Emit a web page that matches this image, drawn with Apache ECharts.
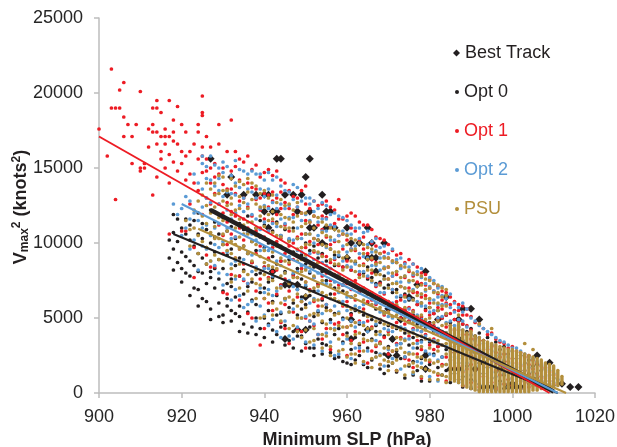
<!DOCTYPE html>
<html>
<head>
    <meta charset="utf-8">
    <script src="https://cdn.jsdelivr.net/npm/echarts@6/dist/echarts.min.js"></script>
    <style>
        html, body { margin: 0; padding: 0; background: #fff; }
    </style>
</head>
<body>
    <div id="main" style="width: 617px;height:447px;"></div>
    <script type="text/javascript">

    // x ticks (hPa) and y ticks (knots^2)
    var xTicks = [900, 920, 940, 960, 980, 1000, 1020];
    var yTicks = [0, 5000, 10000, 15000, 20000, 25000];

    // each row: [minimum SLP, Vmax^2, Vmax^2, ...]
    var bestTrack = [
        [927, 15625], [931, 13225], [932, 14400], [935, 13225], [938, 13225],
        [940, 13225, 12100], [941, 13225, 11025], [942, 12100, 8100], [943, 15625, 12100],
        [944, 15625], [945, 13225, 7225, 3600], [946, 7225], [947, 13225],
        [948, 12100, 7225, 4225], [949, 13225], [950, 14400, 6400, 4225],
        [951, 15625, 12100, 11025], [952, 11025], [954, 13225, 10000], [955, 12100, 11025],
        [956, 12100], [957, 11025], [960, 11025, 9025], [961, 10000, 4900, 3600],
        [963, 10000], [965, 11025, 9025, 4225], [966, 10000, 9025], [967, 9025, 8100],
        [969, 10000], [970, 5625, 2500], [971, 3600], [972, 2500], [973, 4900],
        [975, 6400], [977, 7225], [979, 8100, 2500, 1600], [982, 4900], [984, 6400],
        [985, 1600], [987, 4900, 3600, 1600], [988, 5625], [990, 5625], [991, 1600],
        [992, 4900], [993, 2025, 400], [995, 400], [997, 1600], [999, 400],
        [1000, 625], [1001, 400], [1002, 400], [1005, 900], [1006, 2500],
        [1009, 2025], [1012, 625], [1014, 400], [1016, 400]
    ];

    var opt0 = [
        [917, 10200, 9000], [918, 11900, 10700, 9600, 8200], [919, 11600, 10100, 8700],
        [920, 11000, 9400, 8300, 7400], [921, 11600, 10600, 9100, 8000],
        [922, 11200, 10200, 8800, 7800, 6500], [923, 11500, 9800, 8500, 7000],
        [924, 12000, 10600, 9300, 8100, 6900, 5800], [925, 11300, 10300, 9000, 8000, 6300],
        [926, 10900, 9700, 8600, 7300, 6100], [927, 12200, 10000, 8100, 7700, 5600, 4900],
        [928, 11400, 10400, 9400, 8300, 7000], [929, 10600, 8900, 7600, 6000, 5100],
        [930, 11700, 9900, 8300, 6800, 5200, 4700], [931, 10800, 9200, 7300, 6300, 5800],
        [932, 11100, 9600, 7600, 7100, 5500, 4800], [933, 12000, 10300, 8500, 6400, 5300],
        [934, 11300, 9000, 7800, 5800, 5100, 4100], [935, 10900, 9800, 8200, 6600, 4600],
        [936, 11800, 10700, 9300, 7100, 5400, 4000], [937, 10100, 8700, 7400, 6200, 4400],
        [938, 11000, 9500, 7900, 5900, 5000, 3900], [939, 11500, 10400, 8000, 6700, 4300],
        [940, 11200, 9700, 8400, 7000, 5000, 3700], [941, 10000, 8900, 7400, 5500, 4600],
        [942, 10800, 9100, 7700, 6100, 4200, 3400], [943, 11400, 9900, 8600, 6500, 5200, 3900],
        [944, 10500, 8800, 7200, 5300, 4400], [945, 10900, 9600, 8100, 6300, 4500, 3200],
        [946, 10200, 8900, 7400, 5700, 3500], [947, 11000, 9400, 7900, 6000, 4100, 3000],
        [948, 10300, 8300, 6900, 5200, 3800], [949, 9200, 7600, 6400, 5600, 3800, 2800],
        [950, 10600, 10000, 8600, 7100, 5900, 3300], [951, 9500, 8000, 6500, 4400, 3000],
        [952, 9800, 8400, 6800, 5100, 3000, 2500], [953, 10200, 9000, 7300, 5400, 3600],
        [954, 9300, 8100, 6200, 4700, 3300, 2600], [955, 9900, 8800, 7500, 5700, 3200],
        [956, 9600, 8300, 6600, 4900, 2700], [957, 9200, 8500, 7000, 5300, 3900, 2300],
        [958, 9100, 7800, 6100, 4300, 2400], [959, 8400, 7200, 6800, 5000, 3400, 2100],
        [960, 8900, 7400, 5800, 4000, 2000], [961, 8200, 6400, 5300, 4800, 2900, 1900],
        [962, 8700, 7100, 5500, 3700, 2200], [963, 7900, 6700, 4600, 3200, 2500],
        [964, 8000, 6900, 5200, 3900, 1900], [965, 8400, 7600, 6000, 4200, 3000, 1700],
        [966, 7700, 6500, 4900, 3600, 2200], [967, 7300, 5600, 4500, 4100, 2700],
        [968, 7400, 6300, 4700, 3300, 1600], [969, 7800, 7000, 5400, 3800, 2600, 1300],
        [970, 7200, 6100, 4500, 3100, 1800], [971, 6700, 5100, 3500, 2000],
        [972, 6900, 5800, 4300, 2800, 1400], [973, 6400, 5000, 3300, 2300],
        [974, 6600, 5500, 4000, 2400, 1000], [975, 6200, 4800, 3200, 1800],
        [976, 6300, 5200, 3700, 2100, 1200], [977, 5900, 4600, 3000, 1500],
        [978, 6000, 5000, 3500, 2300, 800], [979, 5600, 4400, 2700, 1700],
        [980, 5700, 4700, 3400, 1900, 800], [981, 5300, 4100, 2600],
        [982, 5500, 4300, 3100, 1700], [983, 5000, 3800, 2400, 1200],
        [984, 5200, 4000, 2900, 1500], [985, 4700, 3600, 2200, 700],
        [986, 4900, 3700, 2700, 1300], [987, 4400, 3300, 2000, 900],
        [988, 4600, 3500, 2500, 1100, 400], [989, 4100, 3000, 1800],
        [990, 4300, 3200, 2300, 900, 300], [991, 3800, 2700, 1500],
        [992, 4000, 2900, 2000, 600, 200], [993, 3500, 2400, 1300],
        [994, 3700, 2600, 1700, 500, 200], [995, 3200, 2200, 1000],
        [996, 3400, 2300, 1400, 400, 200], [997, 2900, 1900, 800],
        [998, 3100, 2100, 1200, 300], [999, 2600, 1600, 600],
        [1000, 2800, 1800, 1000, 300], [1001, 2300, 1400, 500],
        [1002, 2500, 1500, 800, 300], [1003, 2000, 1100], [1004, 2200, 1300, 600],
        [1005, 1800, 900], [1006, 1900, 1000, 500], [1007, 1500, 700],
        [1008, 1600, 800], [1009, 1200, 600], [1010, 1000, 500]
    ];

    var opt1 = [
        [900, 17600], [902, 15800], [903, 21600, 19000], [904, 19000, 12900],
        [905, 20200, 19000], [906, 20700, 18400, 17100], [907, 17900], [908, 17100, 15300],
        [909, 17900], [910, 20100, 15000, 14800], [911, 15300, 15000], [912, 17600, 16400],
        [913, 19000, 17900, 17400, 13200], [914, 19500, 19000, 17400, 16600, 14400],
        [915, 18700, 17100, 16100, 15600], [916, 17600, 17100, 16600, 15000],
        [917, 19500, 17100, 15900, 14000, 10600], [918, 18200, 17400, 16800, 15400],
        [919, 19100, 16600, 14800], [920, 17900, 16100, 15300, 10800],
        [921, 17400, 15800, 14200, 10800], [922, 16100, 14600, 12600],
        [923, 16600, 14000, 9700, 7700], [924, 17900, 17400, 15600, 13500],
        [925, 19800, 18700, 18500, 16400, 15800, 14700, 11900],
        [926, 17100, 15600, 14800, 13000, 9200], [927, 16400, 15000, 14000, 12600, 8400],
        [928, 15300, 14400, 13300, 8400], [929, 17900, 16600, 14600, 12600, 11200],
        [930, 15000, 13900, 12000, 10500, 9300, 6700], [931, 16100, 13600, 12700, 11400, 9900, 6600],
        [932, 18200, 14800, 13600, 12100, 10600, 7900], [933, 16100, 15100, 13300, 11800, 10400, 9000],
        [934, 15600, 14200, 12800, 11000, 9600, 7800, 6200], [935, 15400, 13000, 11600, 10200, 8600, 7500],
        [936, 15800, 14000, 12400, 11000, 9400, 7300, 5300], [937, 14900, 13700, 11800, 8700, 5000],
        [938, 15200, 13600, 12900, 10800, 9300, 6800], [939, 14400, 13000, 12200, 11000, 9800, 7600, 3200],
        [940, 14700, 13300, 11600, 10400, 8400, 6300, 4300], [941, 14900, 13200, 12400, 10800, 9000, 7700, 6000],
        [942, 14500, 13400, 12800, 11400, 9700, 8100, 5500], [943, 14800, 13000, 11900, 10100, 8200, 6600],
        [944, 14200, 13400, 12300, 10300, 8800, 7200, 4700], [945, 14000, 12700, 11200, 9300, 7600, 5900, 4300],
        [946, 13500, 12300, 10800, 9800, 8600, 6800, 3300], [947, 13100, 11900, 10000, 8900, 7800, 5400],
        [948, 13000, 12400, 10400, 9100, 7700, 6400, 4200], [949, 13500, 12000, 10600, 9700, 8300, 6100, 4100],
        [950, 13800, 12600, 11500, 9700, 7400, 5000, 3000], [951, 12300, 11400, 10100, 8700, 6900, 4800],
        [952, 12800, 11800, 10300, 9400, 7700, 6100, 4500], [953, 12500, 11200, 9900, 8700, 7200, 5800, 3900],
        [954, 12600, 11800, 10900, 9200, 7800, 6300, 3600], [955, 12800, 11700, 10400, 9100, 8000, 5900, 4300],
        [956, 12400, 11100, 9900, 8700, 7500, 5500, 2900], [957, 12200, 11300, 10100, 8900, 7900, 6600, 4600],
        [958, 12900, 11600, 10500, 8500, 7200, 4700], [959, 11600, 10600, 9600, 8400, 7200, 5800, 3900],
        [960, 11800, 10200, 8800, 7300, 6100, 4400, 2500], [961, 12000, 11000, 9600, 8200, 6900, 5200, 3500],
        [962, 11800, 10800, 9500, 7500, 6200, 4100], [963, 11400, 10200, 9000, 7900, 6800, 4800, 2800],
        [964, 11200, 10400, 9600, 8600, 7000, 5600, 3400], [965, 11200, 9300, 7700, 6100, 4800, 2000],
        [966, 10900, 10000, 8900, 8000, 6200, 4400, 2800], [967, 10400, 9800, 8700, 7100, 5900, 3100],
        [968, 10300, 9300, 7300, 6200, 4900, 3400, 1900], [969, 10200, 9400, 8300, 6600, 5200, 3700],
        [970, 9900, 9000, 8400, 7600, 5400, 4100, 2600], [971, 9500, 8800, 7800, 6900, 5700, 4400, 2800],
        [972, 9200, 8700, 7900, 6100, 4700, 3300, 1500], [973, 9300, 8400, 7100, 6200, 5000, 3700],
        [974, 8700, 7700, 6500, 5600, 4600, 2300], [975, 8900, 8100, 7000, 5700, 4800, 3800, 2200],
        [976, 8600, 7800, 6700, 5500, 4300, 1700], [977, 8400, 7400, 6700, 5900, 4800, 3500, 2600],
        [978, 8000, 7300, 6400, 5100, 4100, 2900, 1000], [979, 7900, 7200, 6500, 5500, 4600, 3900],
        [980, 7600, 7000, 6000, 5200, 4600, 3200, 2100], [981, 7300, 6800, 5300, 4500, 3600, 2900],
        [982, 7100, 6600, 5700, 4900, 4000, 3100, 1200], [983, 6800, 6200, 5600, 5000, 4100, 3200, 1900],
        [984, 6700, 6000, 5200, 4400, 3700, 2400, 800], [985, 6400, 5900, 5300, 4500, 3700, 3000, 2200],
        [986, 6100, 5500, 4900, 4200, 3500, 2700, 1700], [987, 5900, 5500, 4800, 4200, 3500, 2700, 1800],
        [988, 5800, 5200, 4600, 3900, 3300, 1400, 500], [989, 5600, 5200, 4500, 3900, 3000, 2500, 1600],
        [990, 5100, 4200, 3600, 3000, 2500, 1900, 700], [991, 4700, 3600, 2200],
        [992, 4600, 3200, 1600, 400], [993, 4300, 3500, 2600, 1100],
        [994, 3900, 2900, 1800], [995, 4000, 3100, 2300, 700],
        [996, 3600, 2700, 1500, 300], [997, 3400, 2400, 1200],
        [998, 3300, 2600, 1900, 600], [999, 3000, 2100, 900],
        [1000, 3100, 2300, 1600, 500], [1001, 2800, 2000, 1300],
        [1002, 2700, 1800, 1000, 300], [1003, 2400, 1500, 700],
        [1004, 2500, 1900, 1200, 400], [1005, 2200, 1600, 900],
        [1006, 2000, 1300, 600], [1007, 1800, 1100, 500], [1008, 1700, 1000, 400],
        [1009, 1400, 800], [1010, 1200, 600]
    ];

    var opt2 = [
        [918, 12600], [919, 11900], [920, 12300, 10500], [921, 13100, 11000],
        [922, 12800, 11600, 9600], [923, 14600, 12000, 10200], [924, 14000, 11500, 8200],
        [925, 15800, 15300, 13600, 12400, 11000, 9800], [926, 15100, 14300, 13000, 11200, 9600],
        [927, 15800, 14200, 12700, 10500, 8800], [928, 15200, 13800, 12100, 11000, 9900, 8500],
        [929, 15000, 14300, 13500, 12600, 11300, 9700, 8000], [930, 15400, 14700, 13100, 11800, 10100, 7200],
        [931, 15100, 13400, 12200, 11000, 9400, 7900], [932, 14500, 13300, 11600, 10300, 8600, 6200],
        [933, 15500, 14000, 13200, 12000, 10400, 8800, 7600, 6900], [934, 14900, 13700, 12500, 11200, 9700, 6500],
        [935, 14800, 13000, 12100, 11100, 8900, 7600, 5700], [936, 14600, 13600, 12600, 10700, 9400, 7300, 5900],
        [937, 14800, 13400, 11900, 10600, 9200, 8100, 6100], [938, 14600, 13000, 11600, 10200, 8400, 4800],
        [939, 14600, 13600, 12300, 10900, 9500, 7000, 5800], [940, 14200, 13100, 12500, 11400, 9600, 8300, 6700, 5200],
        [941, 14700, 13600, 12300, 10800, 9500, 8300, 6900, 4500], [942, 14200, 12700, 11300, 9900, 7800, 6500, 4900],
        [943, 14400, 13200, 12300, 11100, 9900, 8800, 6800, 4100], [944, 13800, 12600, 11600, 10500, 8500, 7100, 5400, 3700],
        [945, 13500, 12300, 11300, 9600, 8000, 6200, 4800], [946, 13400, 12500, 11700, 10300, 9100, 7500, 5400, 3800],
        [947, 13900, 12900, 11700, 10200, 8000, 7100, 5600, 3600], [948, 13700, 12400, 11000, 9500, 8100, 6900, 4400],
        [949, 12800, 11500, 10300, 9400, 8500, 6200, 5000, 3700], [950, 13000, 11900, 10600, 9000, 8300, 7200, 5100, 3400],
        [951, 13000, 12600, 11500, 10600, 9300, 8100, 6000, 4800], [952, 12800, 12100, 10000, 8900, 7700, 6300, 4600, 3200],
        [953, 12300, 11400, 10500, 9300, 8000, 6800, 5500, 3900], [954, 12700, 11600, 10800, 8700, 7300, 5300, 2800],
        [955, 12500, 11600, 10800, 9700, 8500, 7300, 5900, 4000], [956, 11900, 11200, 10200, 8300, 7200, 6300, 4700, 3400],
        [957, 12000, 11100, 10200, 9000, 7400, 5800, 4300, 2500], [958, 11800, 10500, 9200, 7900, 6700, 5400, 2600],
        [959, 11700, 10800, 9800, 8800, 7200, 6100, 4900, 3300], [960, 11500, 10600, 9400, 8500, 7400, 6400, 5500, 3600],
        [961, 11200, 10600, 9600, 8400, 7400, 6400, 4800, 2300], [962, 11000, 9800, 8600, 7100, 5800, 4400, 3000],
        [963, 11000, 10300, 9300, 8100, 6900, 5700, 4700, 3000], [964, 10700, 9100, 8100, 6900, 5900, 4700, 2000],
        [965, 10800, 9900, 9000, 7800, 6600, 5100, 4100, 2800], [966, 10100, 9400, 8500, 7400, 6300, 3500],
        [967, 10300, 9500, 8500, 7200, 6000, 4600, 3500, 2400], [968, 9700, 9000, 8200, 6700, 5400, 3900, 2600],
        [969, 9800, 9100, 8400, 7600, 6700, 5300, 4300, 1800], [970, 9300, 8000, 7000, 6000, 5100, 4200, 2900],
        [971, 9600, 8700, 7800, 6900, 6000, 5000, 4100, 2300], [972, 8900, 8100, 7400, 6400, 5600, 4400, 3200],
        [973, 9000, 8300, 7400, 6500, 5400, 4400, 3300, 1600], [974, 8600, 7800, 7000, 6100, 5200, 4300, 3600, 2400],
        [975, 8400, 7400, 6300, 5600, 4700, 3600, 2700], [976, 8600, 7900, 6900, 6200, 5400, 4200, 3000, 1300],
        [977, 8100, 7100, 6100, 5200, 4200, 3300, 2100], [978, 8300, 7700, 6600, 5800, 4900, 4100, 3400, 2000],
        [979, 7300, 6800, 5800, 4800, 3800, 2800], [980, 7700, 7100, 6200, 5400, 4500, 3500, 2600, 1100],
        [981, 7500, 6800, 6200, 5500, 4400, 3500, 2500], [982, 7000, 6400, 5900, 5000, 4300, 3300, 2200, 800],
        [983, 7100, 6500, 5900, 5100, 4100, 3200, 2400], [984, 6300, 5900, 5300, 4700, 4000, 3100, 1900],
        [985, 6600, 5700, 4800, 4200, 3700, 2800, 1000], [986, 6000, 5400, 4500, 3800, 3100, 2400],
        [987, 5700, 4900, 4200, 3600, 3000, 2300, 700], [988, 6000, 5400, 4800, 4200, 3500, 2900, 1500],
        [989, 5600, 4400, 3300, 2000], [990, 5000, 3900, 2700, 1200, 400],
        [991, 4800, 3500, 2400, 800], [992, 4500, 3700, 2800, 1800],
        [993, 4300, 3300, 2100, 500], [994, 4100, 3000, 1700],
        [995, 3900, 2800, 1400, 300], [996, 3700, 2500, 1100],
        [997, 3500, 2600, 1900, 600], [998, 3400, 2200, 1300],
        [999, 3200, 2400, 1600, 400], [1000, 3000, 2000, 900],
        [1001, 3000, 1700, 600], [1002, 2800, 1900, 1100, 300],
        [1003, 2600, 1500, 800], [1004, 2400, 1700, 1000], [1005, 2300, 1400, 500],
        [1006, 2100, 1200, 700], [1007, 1900, 900], [1008, 1800, 1100, 600],
        [1009, 1500, 800], [1010, 1300, 700], [1011, 900]
    ];

    var psu = [
        [921, 11500], [922, 10900, 9800], [923, 12200, 11000], [924, 12800, 10500, 9300],
        [925, 13200, 11800, 10100], [926, 14000, 12500, 11300, 9700, 8600],
        [927, 13600, 12000, 10700, 8800], [928, 14000, 13200, 12400, 11100, 10300, 9200],
        [929, 14500, 13300, 11700, 10300, 8900], [930, 14400, 13500, 12800, 11500, 10600, 9900, 8800],
        [931, 13500, 12500, 11600, 10800, 9500], [932, 14300, 13000, 12600, 11900, 10100, 9300, 8300, 7400],
        [933, 13800, 12200, 11000, 9900, 9000, 7800], [934, 14100, 13100, 12300, 11600, 10400, 9600, 8600, 7000],
        [935, 13900, 12700, 11200, 10600, 9800, 8100], [936, 14300, 13400, 12300, 11400, 10600, 9300, 7900, 6800],
        [937, 14000, 12900, 11400, 10100, 8800, 7600], [938, 13800, 12600, 11000, 10500, 9900, 8200, 7300, 6300],
        [939, 13300, 12400, 11800, 10500, 9100, 7200, 5000], [940, 13500, 12400, 11100, 10300, 9500, 8700, 7900, 6300, 5100],
        [941, 13000, 11900, 11500, 10200, 8500, 7600, 6600], [942, 13200, 12100, 11600, 10700, 9400, 8400, 7500, 6000, 5200],
        [943, 12700, 11300, 10500, 9800, 8300, 7000, 5600], [944, 12900, 11900, 11100, 10400, 9800, 9000, 7800, 7000, 6000, 4800],
        [945, 12500, 11700, 11000, 9600, 8800, 8000, 6300], [946, 12600, 11600, 11000, 10100, 9400, 8700, 7300, 6400, 5400, 4300],
        [947, 12200, 11400, 10800, 9300, 7700, 6200, 4500], [948, 12700, 11800, 10300, 9600, 8800, 7700, 6600, 5800, 5000, 4100],
        [949, 12000, 11100, 9700, 8900, 8100, 6100, 5000, 3700], [950, 12000, 11300, 10600, 9900, 9200, 8200, 7400, 6500, 5700, 4200],
        [951, 11400, 10600, 9900, 8400, 6800, 5200, 3400], [952, 11800, 11000, 10300, 9500, 8600, 7800, 7000, 6200, 5300, 4300, 3500],
        [953, 11700, 10200, 9400, 8700, 7100, 6200, 5200], [954, 11400, 10700, 9900, 9100, 8300, 7500, 6700, 5800, 4800, 3900, 3000],
        [955, 11200, 10500, 9800, 8200, 6500, 5500, 4600, 3800], [956, 11000, 10400, 9600, 8900, 8000, 7200, 6300, 5500, 4300, 3100, 2500],
        [957, 10900, 9400, 8600, 7900, 6300, 5200, 4200], [958, 10800, 10100, 9400, 8600, 7800, 7000, 6100, 5300, 4500, 3600, 2800],
        [959, 10600, 9000, 8200, 7600, 5900, 4400, 2900], [960, 10500, 9900, 9100, 8400, 7500, 6700, 5800, 5000, 4400, 3800, 2400],
        [961, 10300, 9500, 8800, 7300, 5600, 4500, 3300, 2600], [962, 10200, 9600, 8800, 8100, 7300, 6500, 5600, 4700, 3900, 2600, 2000],
        [963, 10000, 8500, 7700, 6900, 5400, 4000, 3300], [964, 9900, 9300, 8500, 7800, 7000, 6200, 5400, 4500, 3600, 2800, 2100],
        [965, 9700, 8900, 8200, 6600, 5100, 4300, 3500], [966, 9600, 9000, 8200, 7500, 6700, 5900, 5100, 4300, 3500, 2300, 1700],
        [967, 9400, 8600, 7900, 6300, 4800, 3900, 3200, 2400], [968, 9300, 8700, 7900, 7200, 6400, 5700, 4900, 4100, 3300, 2500, 1900],
        [969, 9000, 8300, 7600, 6000, 5300, 4600, 3000, 2200], [970, 9000, 8400, 7600, 7000, 6100, 5400, 4600, 3900, 3000, 2100, 1500],
        [971, 8800, 8000, 7300, 5800, 5100, 4400, 2800, 2000], [972, 8700, 8100, 7300, 6700, 5900, 5200, 4400, 3700, 2900, 2200, 1500],
        [973, 8500, 7700, 7100, 5500, 4200, 3600, 3000], [974, 8400, 7800, 7000, 6400, 5700, 5000, 4200, 3500, 2700, 1800, 1200],
        [975, 8200, 7500, 6800, 5300, 4700, 4000, 2600, 1900], [976, 8000, 7500, 6800, 6200, 5400, 4700, 4000, 3300, 2600, 2000, 1400],
        [977, 7900, 7100, 6500, 5100, 4400, 3800, 2400, 1800], [978, 7800, 7200, 6600, 6000, 5200, 4500, 3800, 3100, 2400, 1700, 1100],
        [979, 7600, 6900, 6300, 4900, 4200, 3600, 2200, 1600], [980, 7500, 7000, 6300, 5700, 5000, 4400, 3600, 3000, 2200, 1500, 900],
        [981, 7300, 6700, 6000, 4700, 4000, 3400, 2000, 1400], [982, 7200, 6700, 6000, 5500, 4800, 4200, 3500, 2800, 2100, 1300, 900],
        [983, 7000, 6400, 5800, 4500, 3800, 3200, 1800, 1200], [984, 6900, 6500, 5800, 5300, 4600, 4000, 3300, 2600, 1900, 1100, 700],
        [987, 5200], [992, 4600], [995, 4300], [1003, 3300], [1005, 2900]
    ];

    // PSU stacks too dense to separate: [minimum SLP, lowest Vmax^2, highest Vmax^2]
    var psuStacks = [
        [985, 900, 4500], [986, 800, 4300], [987, 700, 4600], [988, 500, 4200],
        [989, 400, 4000], [990, 300, 4100], [991, 200, 3800], [992, 100, 3700],
        [993, 100, 3500], [994, 100, 3400], [995, 100, 3300], [996, 100, 3200],
        [997, 100, 3100], [998, 100, 3000], [999, 100, 2900], [1000, 100, 2900],
        [1001, 100, 2800], [1002, 100, 2700], [1003, 100, 2600], [1004, 100, 2500],
        [1005, 200, 2400], [1006, 200, 2300], [1007, 300, 2200], [1008, 300, 2000],
        [1009, 400, 1900], [1010, 500, 1800], [1011, 500, 1500], [1012, 600, 1100]
    ];

    // least-squares fit lines, end points
    var fitBest = [[927, 12200], [1010, 100]];
    var fitOpt0 = [[918, 10600], [1011, 0]];
    var fitOpt1 = [[900, 17100], [1009, 0]];
    var fitOpt2 = [[920, 12600], [1011, 0]];
    var fitPsu = [[924, 10950], [1013, 0]];

    var black = '#231f20', red = '#ed1c24', blue = '#5b9bd5', gold = '#b38f3c';
    var fontFam = '"Liberation Sans", Arial, sans-serif';

    function expand(rows) {
        var out = [];
        rows.forEach(function (r) {
            for (var i = 1; i < r.length; i++) out.push([r[0], r[i]]);
        });
        return out;
    }

    function dots(name, rows, color) {
        return {
            name: name, type: 'scatter', data: expand(rows),
            symbol: 'circle', symbolSize: 3.7,
            itemStyle: { color: color, opacity: 1 }, z: 2, silent: true
        };
    }

    function fit(name, pts, color, w) {
        return {
            name: name, type: 'line', data: pts, symbol: 'none',
            lineStyle: { color: color, width: w }, z: 5, silent: true
        };
    }

    var myChart = echarts.init(document.getElementById('main'));

    myChart.setOption({
        animation: false,
        grid: { left: 99, right: 22, top: 18, bottom: 54, outerBoundsMode: 'none' },
        legend: [{
            data: [{ name: 'Best Track', textStyle: { color: black } }],
            icon: 'diamond', left: 448, top: 39, itemWidth: 7, itemHeight: 7, itemTextGap: 7,
            textStyle: { fontSize: 18, fontFamily: fontFam }
        }, {
            data: [
                { name: 'Opt 0', textStyle: { color: black } },
                { name: 'Opt 1', textStyle: { color: red } },
                { name: 'Opt 2', textStyle: { color: blue } },
                { name: 'PSU', textStyle: { color: gold } }
            ],
            orient: 'vertical', icon: 'circle', left: 450, top: 78,
            itemWidth: 4, itemHeight: 4, itemGap: 21, itemTextGap: 9,
            textStyle: { fontSize: 18, fontFamily: fontFam }
        }],
        xAxis: {
            type: 'value', min: xTicks[0], max: xTicks[xTicks.length - 1], interval: 20,
            name: 'Minimum SLP (hPa)', nameLocation: 'middle', nameGap: 38,
            nameTextStyle: { fontSize: 18, fontWeight: 'bold', color: black, fontFamily: fontFam },
            axisLine: { lineStyle: { color: '#bdbdbd', width: 1.5 } },
            axisTick: { show: true, length: 5, lineStyle: { color: '#bdbdbd', width: 1.5 } },
            axisLabel: {
                fontSize: 18, color: '#262626', margin: 15, fontFamily: fontFam,
                formatter: function (v) { return String(v); }
            },
            splitLine: { show: false }
        },
        yAxis: {
            type: 'value', min: yTicks[0], max: yTicks[yTicks.length - 1], interval: 5000,
            axisLine: { show: true, lineStyle: { color: '#bdbdbd', width: 1.5 } },
            axisTick: { show: true, length: 5, lineStyle: { color: '#bdbdbd', width: 1.5 } },
            axisLabel: {
                fontSize: 18, color: '#262626', margin: 16, fontFamily: fontFam,
                formatter: function (v) { return String(v); }
            },
            splitLine: { show: false }
        },
        graphic: [{
            type: 'text', x: 21, y: 207, rotation: Math.PI / 2,
            style: {
                text: '{v|V}{sub|max}{sup|2}{v| (knots}{sup|2}{v|)}',
                align: 'center', verticalAlign: 'middle',
                fill: black, font: 'bold 18px ' + fontFam,
                rich: {
                    v: { fontSize: 18, fontWeight: 'bold', fontFamily: fontFam, fill: black, lineHeight: 20, verticalAlign: 'middle' },
                    sub: { fontSize: 12, fontWeight: 'bold', fontFamily: fontFam, fill: black, lineHeight: 12, verticalAlign: 'bottom' },
                    sup: { fontSize: 12, fontWeight: 'bold', fontFamily: fontFam, fill: black, lineHeight: 12, verticalAlign: 'top' }
                }
            }
        }],
        series: [
            {
                name: 'Best Track', type: 'scatter', data: expand(bestTrack),
                symbol: 'diamond', symbolSize: 8,
                itemStyle: { color: black, opacity: 1 }, z: 2, silent: true
            },
            dots('Opt 0', opt0, black),
            dots('Opt 1', opt1, red),
            dots('Opt 2', opt2, blue),
            dots('PSU', psu, gold),
            {
                name: 'PSU stacks', type: 'custom', data: psuStacks, z: 3, silent: true,
                encode: { x: 0, y: [1, 2] },
                renderItem: function (params, api) {
                    var top = api.coord([api.value(0), api.value(2)]);
                    var bot = api.coord([api.value(0), api.value(1)]);
                    return {
                        type: 'rect',
                        shape: { x: top[0] - 1.7, y: top[1] - 1.7, width: 3.4, height: bot[1] - top[1] + 3.4, r: 1.5 },
                        style: { fill: gold }
                    };
                }
            },
            fit('Best Track fit', fitBest, black, 4.5),
            fit('Opt 0 fit', fitOpt0, black, 2),
            fit('Opt 1 fit', fitOpt1, red, 2),
            fit('Opt 2 fit', fitOpt2, blue, 2),
            fit('PSU fit', fitPsu, gold, 2)
        ]
    });

</script>
</body>
</html>
